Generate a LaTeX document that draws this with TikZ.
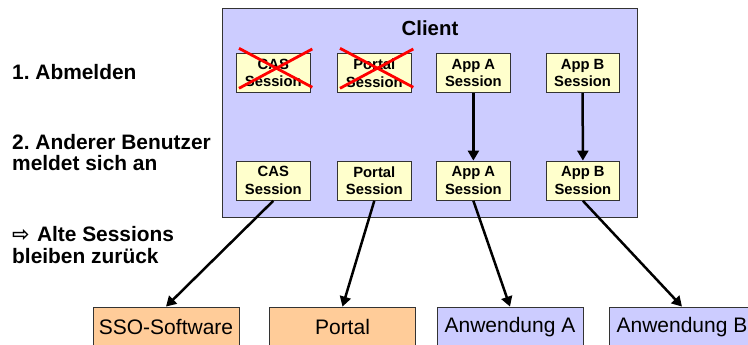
\documentclass[tikz,border=0pt]{standalone}
\usepackage{fontspec}
\setmainfont{Liberation Sans}
\newfontfamily\symfont{DejaVu Sans}
\usetikzlibrary{arrows.meta,calc}
\definecolor{clientfill}{HTML}{CCCCFF}
\definecolor{sessfill}{HTML}{FFFFCC}
\definecolor{orangefill}{HTML}{FFCC99}
\definecolor{edgecol}{HTML}{333333}
\definecolor{crossred}{HTML}{FF0000}
\frenchspacing
\begin{document}
\begin{tikzpicture}[x=1pt,y=-1pt,
  clientbox/.style={draw=edgecol, fill=clientfill, line width=0.9pt, minimum width=415pt, minimum height=209pt, inner sep=0pt},
  session/.style={draw=edgecol, fill=sessfill, line width=0.8pt, minimum width=73.4pt, minimum height=39.4pt, inner sep=0pt, align=center, font=\fontsize{14.8}{17.6}\selectfont\bfseries},
  appbox/.style={draw=edgecol, line width=0.8pt, minimum width=146pt, minimum height=40pt, inner sep=0pt, font=\fontsize{21}{24}\selectfont},
  sidetext/.style={anchor=base west, inner sep=0pt, align=left, font=\fontsize{20.9}{21.4}\selectfont\bfseries},
  conn/.style={line width=2.5pt, -{Triangle[length=10pt,width=11pt]}},
  xline/.style={draw=crossred, line width=2.8pt}
]
\useasboundingbox (0,0) rectangle (748,345);

% client area
\node[clientbox] (client) at (430.2,112.8) {};
\node[inner sep=0pt, font=\fontsize{20.4}{24}\selectfont\bfseries] (clientlbl) at (430,28.5) {Client};

% sessions, top row
\node[session] (cas1) at (273.3,73) {CAS\\Session};
\node[session] (por1) at (374.3,73) {Portal\\Session};
\node[session] (apa1) at (473.4,73) {App A\\Session};
\node[session] (apb1) at (582.6,73) {App B\\Session};

% sessions, bottom row
\node[session] (cas2) at (273.3,180.7) {CAS\\Session};
\node[session] (por2) at (374.3,180.7) {Portal\\Session};
\node[session] (apa2) at (473.4,180.7) {App A\\Session};
\node[session] (apb2) at (582.9,180.7) {App B\\Session};

% red crosses
\foreach \n in {cas1,por1}{
  \draw[xline] ($(\n.center)+(-34.3,-24.7)$) -- ($(\n.center)+(39,14.3)$);
  \draw[xline] ($(\n.center)+(-34.3,15.3)$) -- ($(\n.center)+(39,-24)$);
}

% applications
\node[appbox, fill=orangefill] (sso) at (166,327) {SSO-Software};
\node[appbox, fill=orangefill] (portal) at (342.5,327) {Portal};
\node[appbox, fill=clientfill] (appA) at (510,327) {Anwendung A};
\node[appbox, fill=clientfill] (appB) at (682,327) {Anwendung B};

% connectors
\draw[conn] (apa1.south) -- (apa2.north);
\draw[conn] (apb1.south) -- (apb2.north);
\draw[conn] (cas2.south) -- (sso.north);
\draw[conn] (por2.south) -- (portal.north);
\draw[conn] (apa2.south) -- (appA.north);
\draw[conn] (apb2.south) -- (appB.north);

% side texts (base anchor = baseline of the last line)
\node[sidetext] (t1) at (12,79.3) {1. Abmelden};
\node[sidetext] (t2) at (12,170.7) {2. Anderer Benutzer\\meldet sich an};
\node[sidetext] (t3) at (12,263.3) {{\symfont ⇨}\hspace{0.35em}Alte Sessions\\bleiben zurück};
\end{tikzpicture}
\end{document}
